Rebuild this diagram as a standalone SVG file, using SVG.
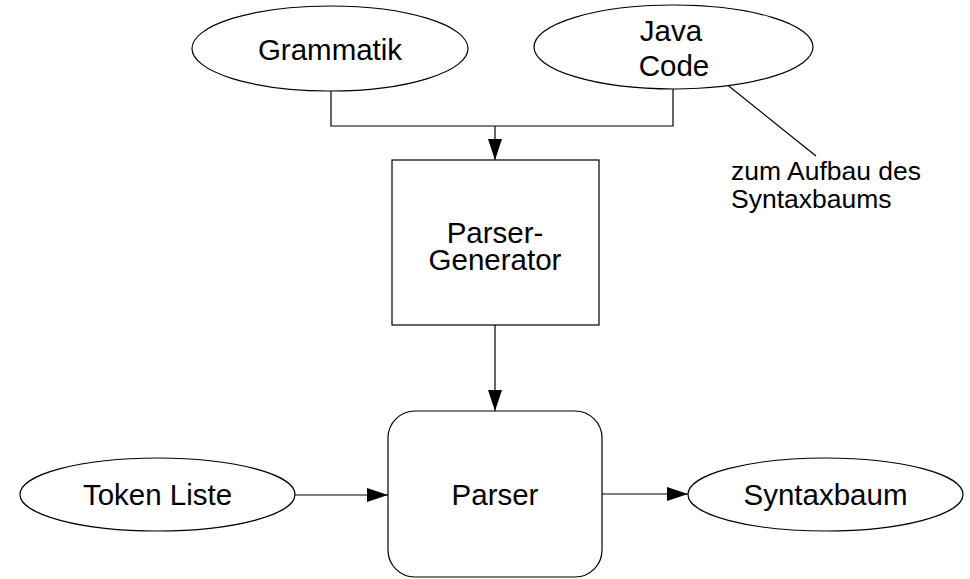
<svg xmlns="http://www.w3.org/2000/svg" width="970" height="579" viewBox="0 0 970 579">
<style>
.s{fill:#fff;stroke:#000;stroke-width:1.2}
.t{font-family:"Liberation Sans",Arial,sans-serif;font-size:29.5px;fill:#000;text-anchor:middle}
.n{font-family:"Liberation Sans",Arial,sans-serif;font-size:26.5px;fill:#000}
.c{fill:none;stroke:#000;stroke-width:1.2}
</style>
<defs>
<marker id="ah" markerUnits="userSpaceOnUse" markerWidth="22" markerHeight="14" refX="21" refY="7" orient="auto">
<path d="M0,0 L21,7 L0,14 Z" fill="#000"/>
</marker>
</defs>
<rect width="970" height="579" fill="#fff"/>
<g id="connectors">
<polyline class="c" points="331,91 331,126 673,126 673,89"/>
<line class="c" x1="495" y1="126" x2="495" y2="160" marker-end="url(#ah)"/>
<line class="c" x1="495" y1="325" x2="495" y2="411" marker-end="url(#ah)"/>
<line class="c" x1="295" y1="495" x2="388" y2="495" marker-end="url(#ah)"/>
<line class="c" x1="602" y1="494" x2="688" y2="494" marker-end="url(#ah)"/>
<line class="c" x1="725" y1="83" x2="816" y2="156"/>
</g>
<g id="grammatik">
<ellipse class="s" cx="330" cy="48.5" rx="138" ry="42.5"/>
<text class="t" x="330" y="60">Grammatik</text>
</g>
<g id="javacode">
<ellipse class="s" cx="673.5" cy="47" rx="139.5" ry="42"/>
<text class="t" x="671" y="41">Java</text>
<text class="t" x="674" y="76">Code</text>
</g>
<g id="note">
<text class="n" x="731" y="180">zum Aufbau des</text>
<text class="n" x="731" y="208">Syntaxbaums</text>
</g>
<g id="parsergenerator">
<rect class="s" x="392" y="160" width="207" height="165"/>
<text class="t" x="495" y="243">Parser-</text>
<text class="t" x="495" y="270">Generator</text>
</g>
<g id="parser">
<rect class="s" x="388" y="411" width="214" height="166" rx="27" ry="27"/>
<text class="t" x="495" y="505">Parser</text>
</g>
<g id="tokenliste">
<ellipse class="s" cx="157.5" cy="494.5" rx="137.5" ry="36.5"/>
<text class="t" x="157.5" y="505">Token Liste</text>
</g>
<g id="syntaxbaum">
<ellipse class="s" cx="825.5" cy="494.5" rx="137.5" ry="36.5"/>
<text class="t" x="825.5" y="505">Syntaxbaum</text>
</g>
</svg>
